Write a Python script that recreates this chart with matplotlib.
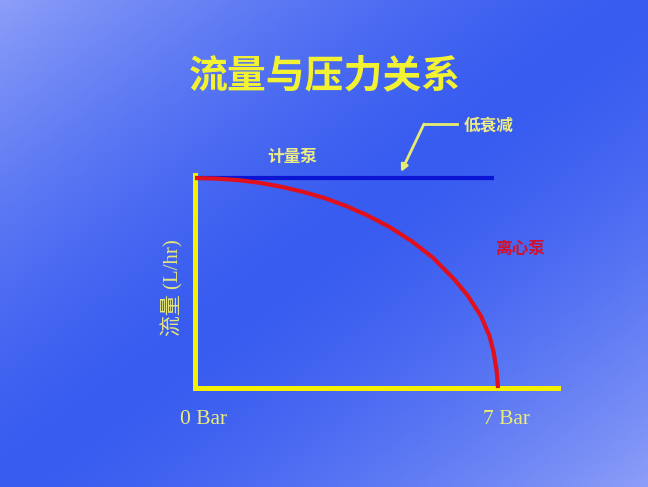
import numpy as np
import matplotlib.pyplot as plt

# (pressure in Bar, flow as % of max)
pressure_metering = [0, 6.9]
flow_metering = [100, 100]

pressure_centrifugal = [0, 0.5, 1, 1.5, 2, 2.5, 3, 3.5, 4, 4.5, 5, 5.5, 6, 6.3, 6.6, 6.8, 6.9, 6.97, 7]
flow_centrifugal = [100, 99.7, 99, 97.7, 95.8, 93.4, 90.4, 86.6, 82, 76.6, 70, 62, 51.5, 44, 34.5, 25, 17, 8, 0]

tick_labels = ["0 Bar", "7 Bar"]
tick_pos = [0, 7]

W, H = 648, 487
fig = plt.figure(figsize=(W / 100, H / 100), dpi=100)

# background gradient
bg = fig.add_axes([0, 0, 1, 1])
u, v = np.meshgrid(np.linspace(0, 1, 300), np.linspace(0, 1, 230))
t = np.clip(np.abs(u + v - 1) ** 1.5, 0, 1)
dark = np.array([56, 92, 240]) / 255
light = np.array([140, 158, 248]) / 255
img = dark[None, None, :] * (1 - t[..., None]) + light[None, None, :] * t[..., None]
bg.imshow(img, aspect="auto", extent=[0, 1, 0, 1], origin="upper")
bg.set_axis_off()

# axes placed in pixel coords: x 195..558, y 175..388
x0, x1 = 195, 558
y_top, y_bot = 175, 388
ax = fig.add_axes([x0 / W, 1 - y_bot / H, (x1 - x0) / W, (y_bot - y_top) / H])
ax.patch.set_alpha(0)
px_per_bar = (498 - 195) / 7
ax.set_xlim(0, (x1 - x0) / px_per_bar)
ax.set_ylim(0, (y_bot - y_top) / ((388 - 178) / 100))

for s in ["top", "right"]:
    ax.spines[s].set_visible(False)
for s in ["left", "bottom"]:
    ax.spines[s].set_color("#f4f000")
    ax.spines[s].set_linewidth(3.6)
    ax.spines[s].set_capstyle("projecting")

ax.plot(pressure_metering, flow_metering, color="#0a14d2", lw=3.0, clip_on=False,
        solid_capstyle="butt", zorder=3)
ax.plot(pressure_centrifugal, flow_centrifugal, color="#e0101c", lw=3.0, clip_on=False,
        solid_capstyle="butt", zorder=4)

ax.set_xticks([])
ax.set_yticks([])
for p, lab in zip(tick_pos, tick_labels):
    ax.annotate(lab, xy=(p, 0), xycoords="data", xytext=(6, -23), textcoords="offset points",
                ha="center", va="center", family=["Liberation Serif"], fontsize=15.5,
                color="#ecec78", annotation_clip=False)

fig.text(172 / W, 1 - 288 / H, "流量 (L/hr)", rotation=90, ha="center", va="center",
         family=["Liberation Serif", "Noto Sans CJK SC"], fontsize=15, color="#e6e67a")

# title
fig.text(325 / W, 1 - 76 / H, "流量与压力关系", ha="center", va="center", fontsize=28,
         color="#f2f232", family=["Noto Sans CJK SC"], weight="heavy")

# annotations
fig.text(292 / W, 1 - 157 / H, "计量泵", ha="center", va="center", fontsize=12,
         color="#ecec86", family=["Noto Sans CJK SC"], weight="bold")
fig.text(520 / W, 1 - 249 / H, "离心泵", ha="center", va="center", fontsize=12,
         color="#d2102a", family=["Noto Sans CJK SC"], weight="bold")
fig.text(489 / W, 1 - 126 / H, "低衰减", ha="center", va="center", fontsize=12,
         color="#ecec86", family=["Noto Sans CJK SC"], weight="bold")

bg.plot([457 / W, 424 / W], [1 - 124 / H, 1 - 124 / H], color="#e8ec70", lw=2,
        transform=bg.transAxes)
bg.annotate("", xy=(401 / W, 1 - 172 / H), xytext=(424 / W, 1 - 124 / H),
            xycoords="axes fraction", textcoords="axes fraction",
            arrowprops=dict(arrowstyle="-|>", color="#e8ec70", lw=2,
                            mutation_scale=10, shrinkA=0, shrinkB=0))
bg.set_xlim(0, 1)
bg.set_ylim(0, 1)

fig.savefig("out.png", dpi=100)
